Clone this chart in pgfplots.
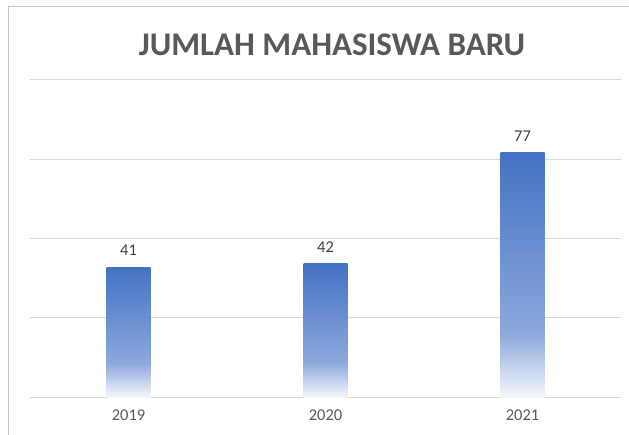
\documentclass[border=0pt]{standalone}
\usepackage{fontspec}
\setmainfont{Carlito}
\usepackage{pgfplots}
\pgfplotsset{compat=1.18}

\definecolor{barTop}{HTML}{4472C4}
\definecolor{barMid}{HTML}{8CA8DC}
\definecolor{barBot}{HTML}{F4F7FC}
\definecolor{gridgray}{HTML}{D9D9D9}
\definecolor{titlegray}{HTML}{595959}
\definecolor{labelgray}{HTML}{404040}

% vertical shading: 25bp = bottom of the bar, 75bp = top
\pgfdeclareverticalshading{barshade}{100bp}{%
  color(0bp)=(barBot); color(25bp)=(barBot); color(38bp)=(barMid);
  color(75bp)=(barTop); color(100bp)=(barTop)}

\begin{document}
\begin{tikzpicture}
\begin{axis}[
    at={(0pt,0pt)}, anchor=south west,
    scale only axis, width=591pt, height=317pt,
    xmin=-0.5, xmax=2.5, ymin=0, ymax=100,
    axis line style={draw=none},
    xtick={0,1,2}, xticklabels={2019,2020,2021},
    ytick={0,25,50,75,100}, yticklabels={},
    major tick length=0pt,
    ymajorgrids, grid style={gridgray, line width=1pt},
    tick label style={font=\fontsize{16.5}{19}\selectfont, text=titlegray},
    xticklabel style={yshift=-9pt},
    ybar, bar width=44pt, bar shift=0pt,
    nodes near coords,
    every node near coord/.append style={font=\fontsize{16.5}{19}\selectfont,
        text=labelgray, yshift=8pt, /pgf/number format/assume math mode=true},
    clip=false,
]
% one plot per bar so that each bar gets its own gradient
\addplot[draw=none, shading=barshade] coordinates {(0, 41)};
\addplot[draw=none, shading=barshade] coordinates {(1, 42)};
\addplot[draw=none, shading=barshade] coordinates {(2, 77)};
\end{axis}
\draw[gridgray!90!black, line width=1.2pt] (-21.5pt,-45pt) -- (-21.5pt,390.5pt) -- (620pt,390.5pt);
\node[font=\bfseries\fontsize{33}{38}\selectfont, text=titlegray] at (302pt,352pt) {JUMLAH MAHASISWA BARU};
\pgfresetboundingbox
\useasboundingbox (-30pt,-37pt) rectangle (599pt,397pt);
\end{tikzpicture}
\end{document}
